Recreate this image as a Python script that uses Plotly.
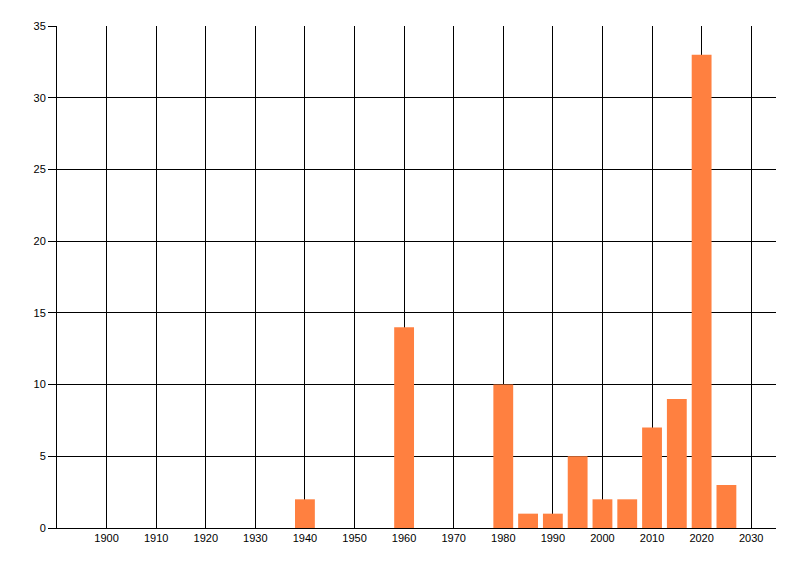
import plotly.graph_objects as go

years = [1940, 1960, 1980, 1985, 1990, 1995, 2000, 2005, 2010, 2015, 2020, 2025]
counts = [2, 14, 10, 1, 1, 5, 2, 2, 7, 9, 33, 3]
x_ticks = list(range(1900, 2031, 10))
y_ticks = list(range(0, 36, 5))

fig = go.Figure(go.Bar(x=years, y=counts, width=4, marker=dict(color="#FF8040", line=dict(width=0))))

font = dict(family="Liberation Sans, Arial, sans-serif", size=11, color="black")
fig.update_layout(
    width=800, height=576,
    margin=dict(l=49, r=32, t=18, b=56),
    paper_bgcolor="white", plot_bgcolor="white",
    showlegend=False, font=font,
)
fig.update_xaxes(
    range=[1890, 2035], tickvals=x_ticks, ticktext=[str(v) for v in x_ticks],
    showgrid=True, gridcolor="black", gridwidth=1,
    showline=True, linecolor="black", linewidth=1,
    ticks="", zeroline=False, tickfont=font, automargin=False,
)
fig.update_yaxes(
    range=[0, 35], tickvals=y_ticks,
    showgrid=True, gridcolor="black", gridwidth=1,
    showline=True, linecolor="black", linewidth=1,
    ticks="outside", ticklen=8, tickcolor="black",
    zeroline=False, tickfont=font, automargin=False,
)
fig.write_html("out.html")
